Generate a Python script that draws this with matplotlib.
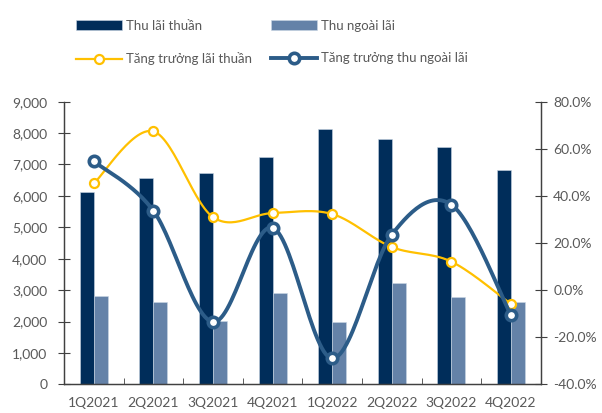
import numpy as np
import matplotlib
matplotlib.use("Agg")
import matplotlib.pyplot as plt
from matplotlib.ticker import FuncFormatter, FixedLocator

plt.rcParams['font.family'] = ['Lato', 'DejaVu Sans']

# data
quarters = ['1Q2021', '2Q2021', '3Q2021', '4Q2021', '1Q2022', '2Q2022', '3Q2022', '4Q2022']
thu_lai_thuan = [6120, 6580, 6730, 7240, 8120, 7800, 7560, 6820]
thu_ngoai_lai = [2800, 2610, 2030, 2900, 1990, 3240, 2770, 2610]
tang_truong_lai_thuan = [45.3, 67.4, 31.0, 32.7, 32.3, 18.3, 12.1, -5.9]
tang_truong_ngoai_lai = [54.7, 33.7, -13.5, 26.5, -29.0, 23.5, 36.3, -10.6]


def smooth(x, y, n=30):
    # Excel-like smoothed line (Catmull-Rom through the points)
    x = np.asarray(x, float)
    y = np.asarray(y, float)
    px = np.concatenate([[x[0]], x, [x[-1]]])
    py = np.concatenate([[y[0]], y, [y[-1]]])
    xs, ys = [], []
    t = np.linspace(0, 1, n)
    for i in range(1, len(px) - 2):
        p0x, p1x, p2x, p3x = px[i - 1], px[i], px[i + 1], px[i + 2]
        p0y, p1y, p2y, p3y = py[i - 1], py[i], py[i + 1], py[i + 2]
        c1x, c1y = p1x + (p2x - p0x) / 6, p1y + (p2y - p0y) / 6
        c2x, c2y = p2x - (p3x - p1x) / 6, p2y - (p3y - p1y) / 6
        bx = (1-t)**3*p1x + 3*(1-t)**2*t*c1x + 3*(1-t)*t**2*c2x + t**3*p2x
        by = (1-t)**3*p1y + 3*(1-t)**2*t*c1y + 3*(1-t)*t**2*c2y + t**3*p2y
        xs.append(bx)
        ys.append(by)
    return np.concatenate(xs), np.concatenate(ys)


dark = '#002D5A'
light = '#6482A8'
yellow = '#FFC000'
blue = '#2C5C88'
grey = '#595959'

fig = plt.figure(figsize=(6.02, 4.13), dpi=100)
ax = fig.add_axes([64 / 602, 28.7 / 413, 476.7 / 602, 282.6 / 413])
ax2 = ax.twinx()

x = np.arange(len(quarters))
w = 0.235
b1 = ax.bar(x - w / 2, thu_lai_thuan, w, color=dark, edgecolor='#C9D6E4', linewidth=0.4, zorder=2)
b2 = ax.bar(x + w / 2, thu_ngoai_lai, w, color=light, edgecolor='#C9D6E4', linewidth=0.4, zorder=2)

ax.set_xlim(-0.5, len(quarters) - 0.5)
ax.set_ylim(0, 9000)
ax.set_yticks(np.arange(0, 9001, 1000))
ax.yaxis.set_major_formatter(FuncFormatter(lambda v, p: f'{int(v):,}'))
ax.set_xticks(x)
ax.set_xticklabels(quarters)
ax.xaxis.set_minor_locator(FixedLocator(np.arange(0.5, len(quarters) - 1, 1)))
ax.tick_params(axis='x', which='major', length=0, pad=9, labelsize=10, colors=grey)
ax.tick_params(axis='x', which='minor', length=4, direction='in', color='#404040')
ax.tick_params(axis='y', length=8, direction='inout', labelsize=10, colors=grey, pad=8)
ax.tick_params(axis='y', color='#404040')

xs, ys = smooth(x, tang_truong_lai_thuan)
ax2.plot(xs, ys, color=yellow, lw=1.6, zorder=3)
ax2.plot(x, tang_truong_lai_thuan, 'o', ms=6.5, mfc='white', mec=yellow, mew=1.6, zorder=4)
xs, ys = smooth(x, tang_truong_ngoai_lai)
ax2.plot(xs, ys, color=blue, lw=2.8, zorder=5)
ax2.plot(x, tang_truong_ngoai_lai, 'o', ms=7.5, mfc='white', mec=blue, mew=2.6, zorder=6)

ax2.set_ylim(-40, 80)
ax2.set_yticks(np.arange(-40, 81, 20))
ax2.yaxis.set_major_formatter(FuncFormatter(lambda v, p: f'{v:.1f}%'))
ax2.tick_params(axis='y', length=8, direction='inout', labelsize=10, colors=grey, pad=5)
ax2.tick_params(axis='y', color='#404040')

for a in (ax, ax2):
    a.spines['top'].set_visible(False)
    for s in ('left', 'right', 'bottom'):
        a.spines[s].set_color('#404040')
        a.spines[s].set_linewidth(0.9)

# legend handles for lines with markers
h1, = ax2.plot([], [], color=yellow, lw=1.6, marker='o', ms=6.5, mfc='white', mec=yellow, mew=1.6)
h2, = ax2.plot([], [], color=blue, lw=2.8, marker='o', ms=7.5, mfc='white', mec=blue, mew=2.6)

fig.legend([b1, h1, b2, h2],
           ['Thu lãi thuần', 'Tăng trưởng lãi thuần', 'Thu ngoài lãi', 'Tăng trưởng thu ngoài lãi'],
           ncol=2, loc='upper left', bbox_to_anchor=(64 / 602, 1 - 8 / 413), frameon=False,
           fontsize=9.5, labelcolor=grey, handlelength=3.5, handleheight=0.75, handletextpad=0.3,
           columnspacing=1.45, labelspacing=1.55)

fig.savefig('out.png', dpi=100)
